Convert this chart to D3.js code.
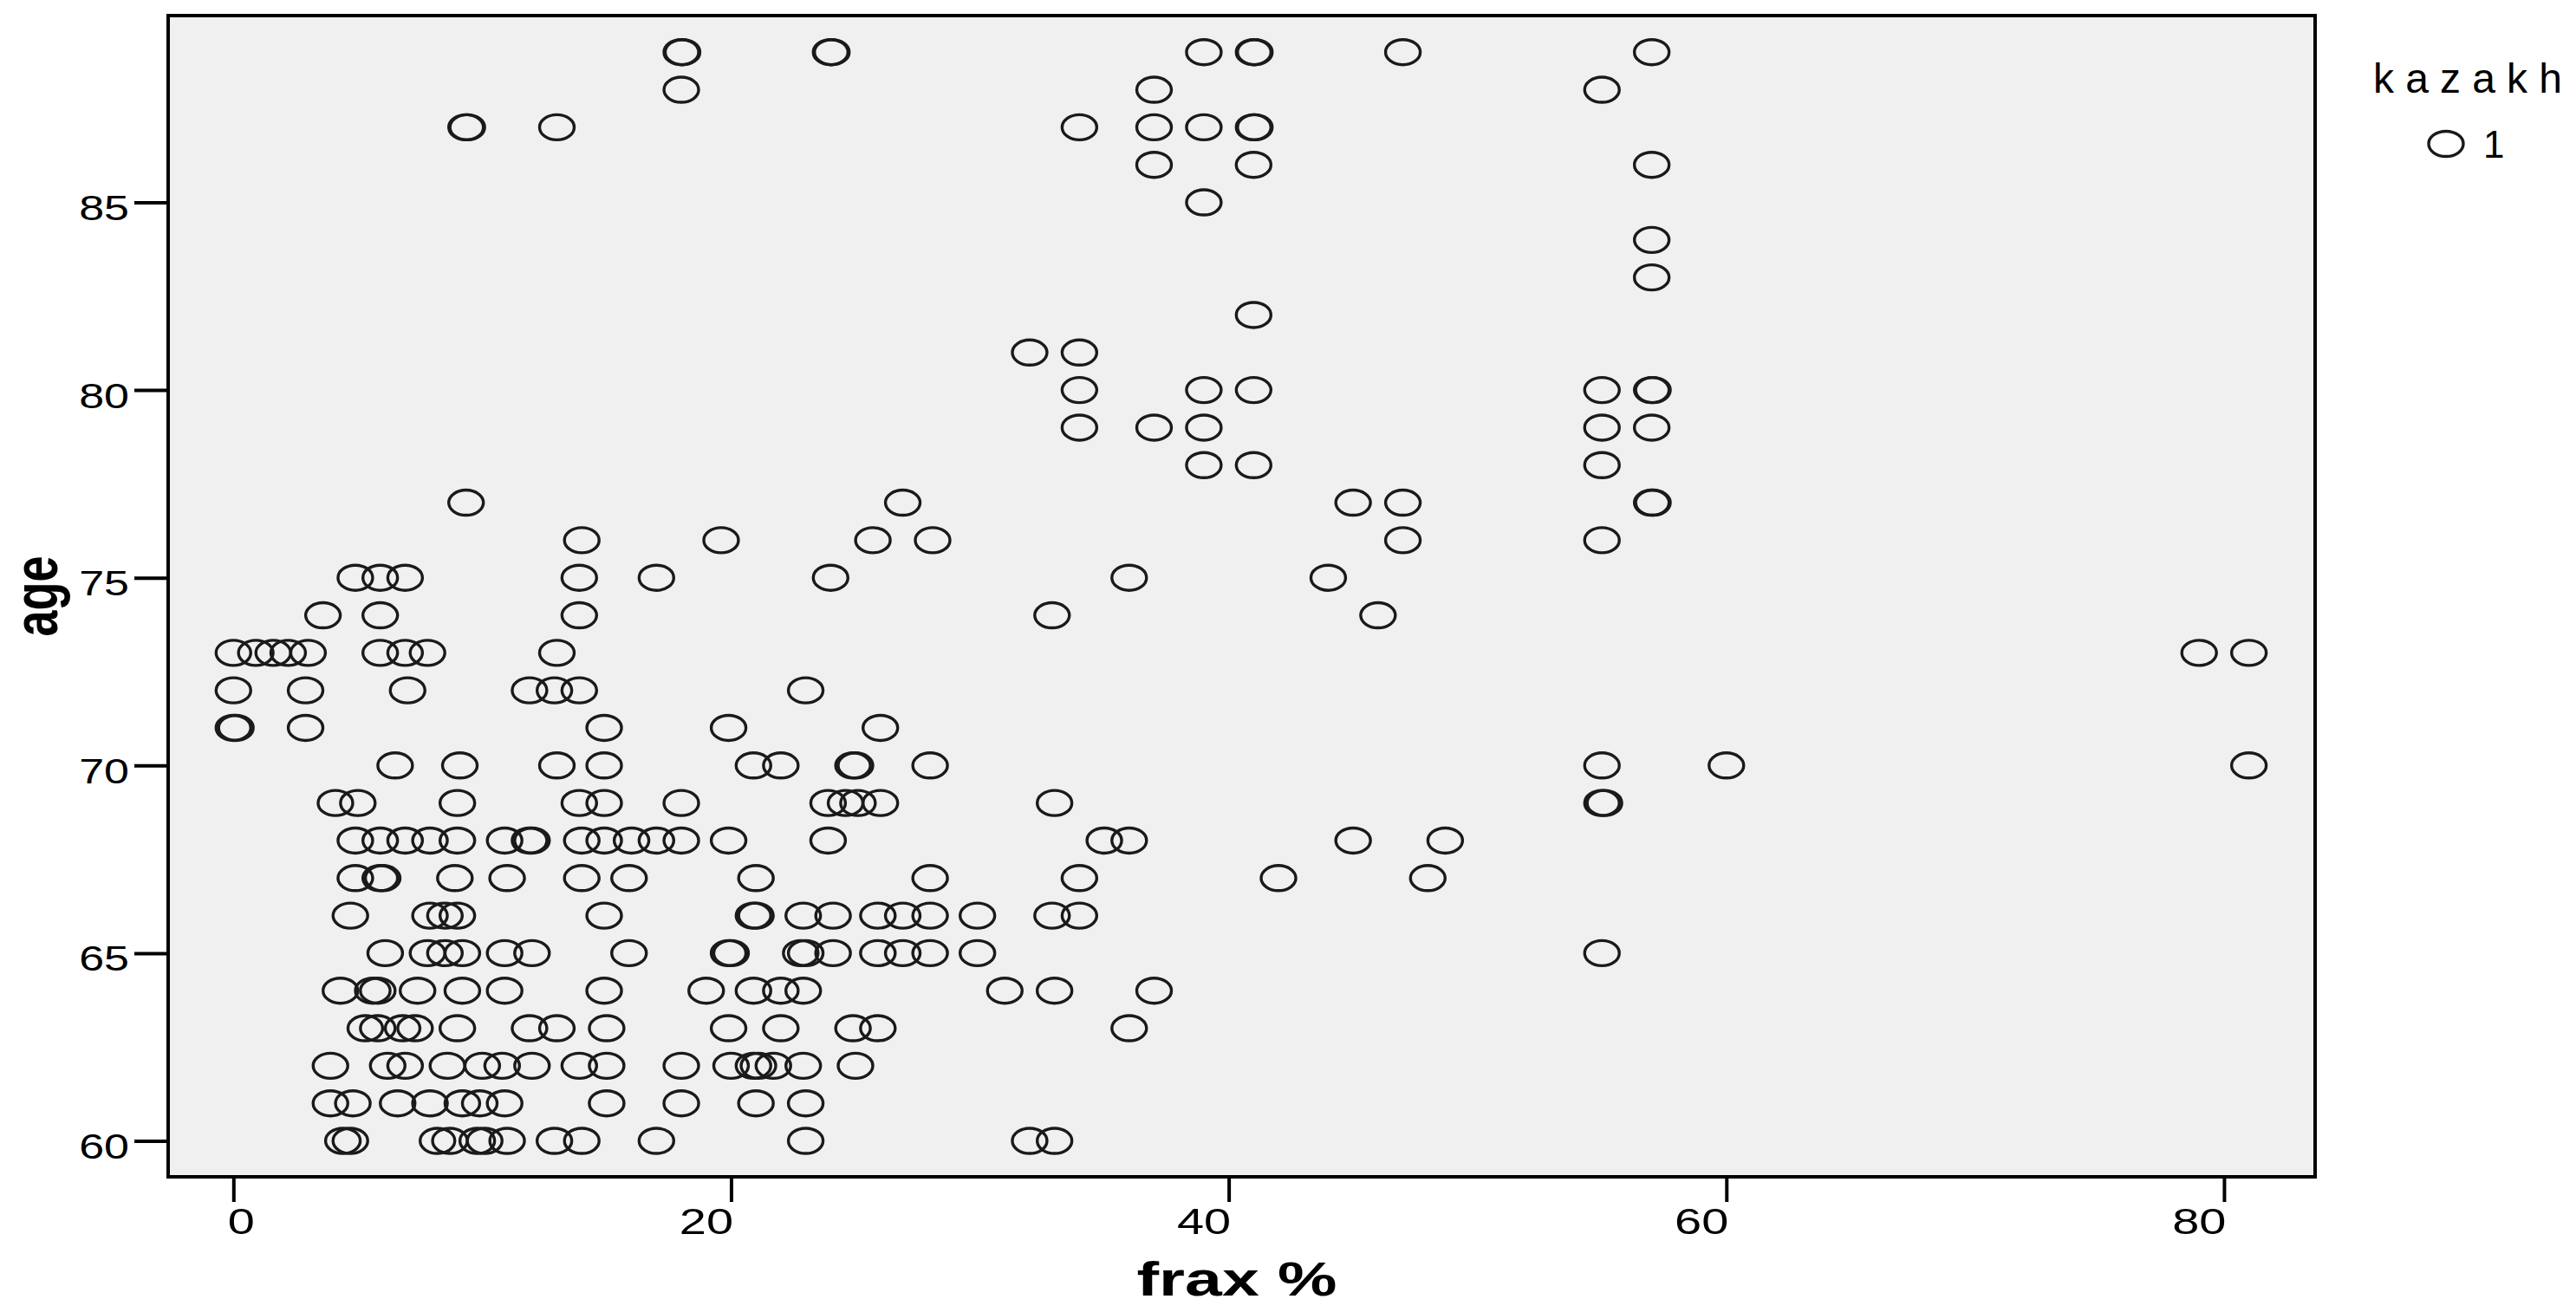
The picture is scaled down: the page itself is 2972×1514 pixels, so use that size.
<!DOCTYPE html>
<html>
<head>
<meta charset="utf-8">
<script src="https://cdn.jsdelivr.net/npm/d3@7"></script>
<style>
  body { margin: 0; background: #fff; }
</style>
</head>
<body>
<div id="chart_root"></div>
<script>
// frax % values, one list per age (rows of the scatter)
const ages = [60, 61, 62, 63, 64, 65, 66, 67, 68, 69, 70, 71, 72, 73, 74,
  75, 76, 77, 78, 79, 80, 81, 82, 83, 84, 85, 86, 87, 88, 89];
const fraxByAge = [
  [4.4, 4.7, 8.2, 8.7, 9.8, 10.1, 11.0, 12.9, 14.0, 17.0, 23.0, 32.0, 33.0],
  [3.9, 4.8, 6.6, 7.9, 9.2, 9.9, 10.9, 15.0, 18.0, 21.0, 23.0],
  [3.9, 6.2, 6.9, 8.6, 10.0, 10.8, 12.0, 13.9, 15.0, 18.0, 20.0, 20.9, 21.1, 21.7, 22.9, 25.0],
  [5.3, 5.8, 6.8, 7.3, 9.0, 11.9, 13.0, 15.0, 19.9, 22.0, 24.9, 25.9, 36.0],
  [4.3, 5.6, 5.8, 7.4, 9.2, 10.9, 14.9, 19.0, 20.9, 22.0, 22.9, 31.0, 33.0, 37.0],
  [6.1, 7.8, 8.5, 9.2, 10.9, 12.0, 15.9, 19.9, 20.0, 22.8, 23.0, 24.1, 25.9, 26.9, 28.0, 29.9, 55.0],
  [4.7, 7.9, 8.5, 9.0, 14.9, 20.9, 21.0, 22.9, 24.1, 25.9, 26.9, 28.0, 29.9, 32.9, 34.0],
  [4.9, 5.9, 6.0, 8.9, 11.0, 14.0, 15.9, 21.0, 28.0, 34.0, 42.0, 48.0],
  [4.9, 5.9, 6.9, 7.9, 9.0, 10.9, 11.9, 12.0, 14.0, 14.9, 16.0, 17.0, 18.0, 19.9, 23.9, 35.0, 36.0, 45.0, 48.7],
  [4.1, 5.0, 9.0, 13.9, 14.9, 18.0, 23.9, 24.6, 25.1, 26.0, 33.0, 55.0, 55.1],
  [6.5, 9.1, 13.0, 14.9, 20.9, 22.0, 24.9, 25.0, 28.0, 55.0, 60.0, 81.0],
  [0.0, 0.1, 2.9, 14.9, 19.9, 26.0],
  [0.0, 2.9, 7.0, 11.9, 12.9, 13.9, 23.0],
  [0.0, 0.9, 1.6, 2.2, 3.0, 5.9, 6.9, 7.8, 13.0, 79.0, 81.0],
  [3.6, 5.9, 13.9, 32.9, 46.0],
  [4.9, 5.9, 6.9, 13.9, 17.0, 24.0, 36.0, 44.0],
  [14.0, 19.6, 25.7, 28.1, 47.0, 55.0],
  [9.35, 26.9, 45.0, 47.0, 57.0, 57.05],
  [39.0, 41.0, 55.0],
  [34.0, 37.0, 39.0, 55.0, 57.0],
  [34.0, 39.0, 41.0, 55.0, 57.0, 57.05],
  [32.0, 34.0],
  [41.0],
  [57.0],
  [57.0],
  [39.0],
  [37.0, 41.0, 57.0],
  [9.35, 9.4, 13.0, 34.0, 37.0, 39.0, 41.0, 41.05],
  [18.0, 37.0, 55.0],
  [18.0, 18.05, 24.0, 24.05, 39.0, 41.0, 41.05, 47.0, 57.0]
];

const xTicks = [0, 20, 40, 60, 80];
const yTicks = [60, 65, 70, 75, 80, 85];
const xLabel = "frax %";
const yLabel = "age";
const legendTitle = "kazakh";
const legendItems = ["1"];

const widthValue = 2972;
const heightValue = 1514;
const plot = { left: 194, right: 2671, top: 18, bottom: 1358 };
const font = "'Liberation Sans', Arial, sans-serif";
const stretch = 1.3; // text in the picture is drawn wider than normal

// flatten rows into points
const points = [];
ages.forEach((a, i) => {
  fraxByAge[i].forEach((f) => points.push({ age: a, frax: f }));
});

const svg = d3
  .select("#chart_root")
  .append("svg")
  .attr("width", widthValue)
  .attr("height", heightValue)
  .style("display", "block");

// scales: 0 -> 269, 80 -> 2566 ; 60 -> 1316.5, 85 -> 233.5
const xScale = d3.scaleLinear().domain([-2.623, 83.66]).range([plot.left, plot.right]);
const yScale = d3.scaleLinear().domain([59.042, 89.975]).range([plot.bottom, plot.top]);

// plot background + frame
svg
  .append("rect")
  .attr("x", plot.left)
  .attr("y", plot.top)
  .attr("width", plot.right - plot.left)
  .attr("height", plot.bottom - plot.top)
  .attr("fill", "#f0f0f0")
  .attr("stroke", "#000")
  .attr("stroke-width", 4);

// markers
svg
  .append("g")
  .selectAll("ellipse")
  .data(points)
  .join("ellipse")
  .attr("cx", (d) => xScale(d.frax))
  .attr("cy", (d) => yScale(d.age))
  .attr("rx", 20)
  .attr("ry", 14.5)
  .attr("fill", "none")
  .attr("stroke", "#1a1a1a")
  .attr("stroke-width", 3.4);

// Y axis
const yAxis = svg
  .append("g")
  .attr("transform", "translate(" + plot.left + ",0)")
  .call(d3.axisLeft(yScale).tickValues(yTicks).tickSize(39).tickSizeOuter(0));
yAxis.attr("font-family", font).attr("font-size", 40);
yAxis.select(".domain").remove();
yAxis
  .selectAll(".tick line")
  .attr("x2", -39)
  .style("stroke", "#000")
  .style("stroke-width", "4px");
yAxis
  .selectAll(".tick text")
  .attr("fill", "#000")
  .attr("text-anchor", "end")
  .attr("dy", null)
  .attr("x", -45 / stretch)
  .attr("y", 20)
  .attr("transform", "scale(" + stretch + ",1)");

// X axis
const xAxis = svg
  .append("g")
  .attr("transform", "translate(0," + plot.bottom + ")")
  .call(d3.axisBottom(xScale).tickValues(xTicks).tickSize(29).tickSizeOuter(0));
xAxis.attr("font-family", font).attr("font-size", 43);
xAxis.select(".domain").remove();
xAxis
  .selectAll(".tick line")
  .attr("y2", 29)
  .style("stroke", "#000")
  .style("stroke-width", "4px");
xAxis
  .selectAll(".tick text")
  .attr("fill", "#000")
  .attr("dy", null)
  .attr("y", 66)
  .attr("text-anchor", (d) => (d === 0 ? "start" : "end"))
  .attr("x", (d) => (d === 0 ? -7 : 2) / stretch)
  .attr("transform", "scale(" + stretch + ",1)");

// axis titles
svg
  .append("text")
  .attr("transform", "translate(1427,1495) scale(1.4,1)")
  .attr("text-anchor", "middle")
  .attr("font-family", font)
  .attr("font-weight", "bold")
  .attr("font-size", 55)
  .text(xLabel);

svg
  .append("text")
  .attr("transform", "translate(66,688) scale(1.35,1) rotate(-90)")
  .attr("text-anchor", "middle")
  .attr("font-family", font)
  .attr("font-weight", "bold")
  .attr("font-size", 54)
  .text(yLabel);

// legend
const legend = svg.append("g").attr("font-family", font).attr("fill", "#000");
legend
  .append("text")
  .attr("x", 2738)
  .attr("y", 107)
  .attr("font-size", 48)
  .attr("textLength", 218)
  .attr("lengthAdjust", "spacing")
  .text(legendTitle);

legendItems.forEach((lab, i) => {
  const cy = 166 + i * 60;
  legend
    .append("ellipse")
    .attr("cx", 2822)
    .attr("cy", cy)
    .attr("rx", 20)
    .attr("ry", 14.5)
    .attr("fill", "none")
    .attr("stroke", "#1a1a1a")
    .attr("stroke-width", 3.4);
  legend
    .append("text")
    .attr("x", 2865)
    .attr("y", cy + 16)
    .attr("font-size", 44)
    .text(lab);
});
</script>
</body>
</html>
